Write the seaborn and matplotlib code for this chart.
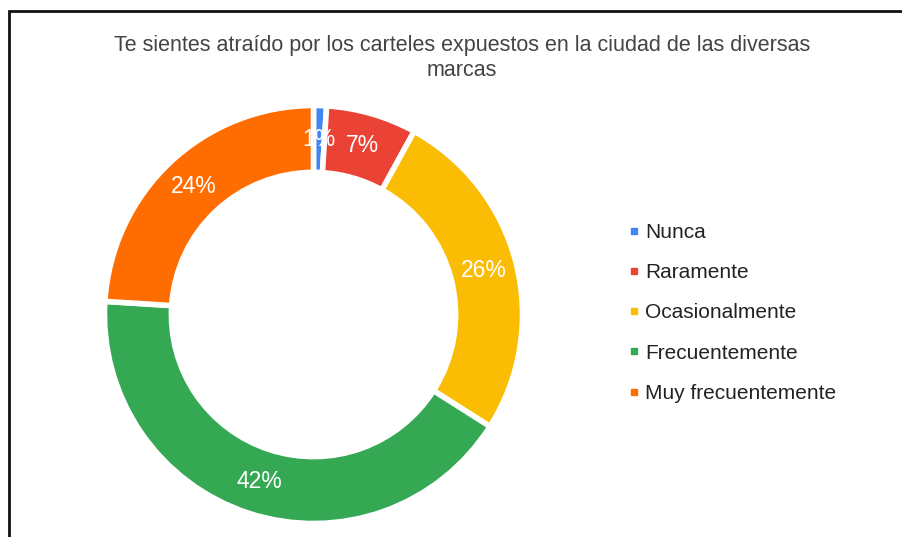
import matplotlib.pyplot as plt
import seaborn as sns
from matplotlib.lines import Line2D
from matplotlib.patches import Rectangle

TITLE = "Te sientes atraído por los carteles expuestos en la ciudad de las diversas\nmarcas"
categories = ["Nunca", "Raramente", "Ocasionalmente", "Frecuentemente", "Muy frecuentemente"]
percentages = [1, 7, 26, 42, 24]
colors = ["#4285F4", "#EA4335", "#FBBC04", "#34A853", "#FF6D01"]

sns.set_theme(style="white")
plt.rcParams["font.family"] = ["Liberation Sans", "DejaVu Sans"]

fig = plt.figure(figsize=(9.03, 5.37), dpi=100)

# marco negro arriba e izquierda
fig.patches.append(Rectangle((9 / 903, -0.1), 1.2, (526 / 537) + 0.1, transform=fig.transFigure,
                             fill=False, edgecolor="#111111", linewidth=2))

ax = fig.add_axes([104.5 / 903, 13.5 / 537, 418 / 903, 418 / 537])
wedges, texts, autotexts = ax.pie(
    percentages,
    colors=sns.color_palette(colors),
    startangle=90,
    counterclock=False,
    radius=1.0,
    autopct="%1.0f%%",
    pctdistance=0.84,
    wedgeprops=dict(width=0.32, edgecolor="white", linewidth=4),
    textprops=dict(color="white", fontsize=16.5),
)
ax.set_xlim(-1.0, 1.0)
ax.set_ylim(-1.0, 1.0)
ax.set_aspect("equal")
ax.axis("off")

fig.text(462 / 903, 1 - 57.5 / 537, TITLE, ha="center", va="center", fontsize=15.5,
         color="#444444", linespacing=1.25)

handles = [Line2D([0], [0], marker="s", linestyle="", markersize=5, markerfacecolor=c,
                  markeredgecolor=c) for c in colors]
fig.legend(handles, categories, loc="center left", bbox_to_anchor=(610 / 903, 1 - 313 / 537),
           frameon=False, fontsize=15, labelcolor="#222222", handlelength=0.5,
           handletextpad=0.3, labelspacing=1.02)

plt.savefig("out.png", dpi=100)
plt.close()
